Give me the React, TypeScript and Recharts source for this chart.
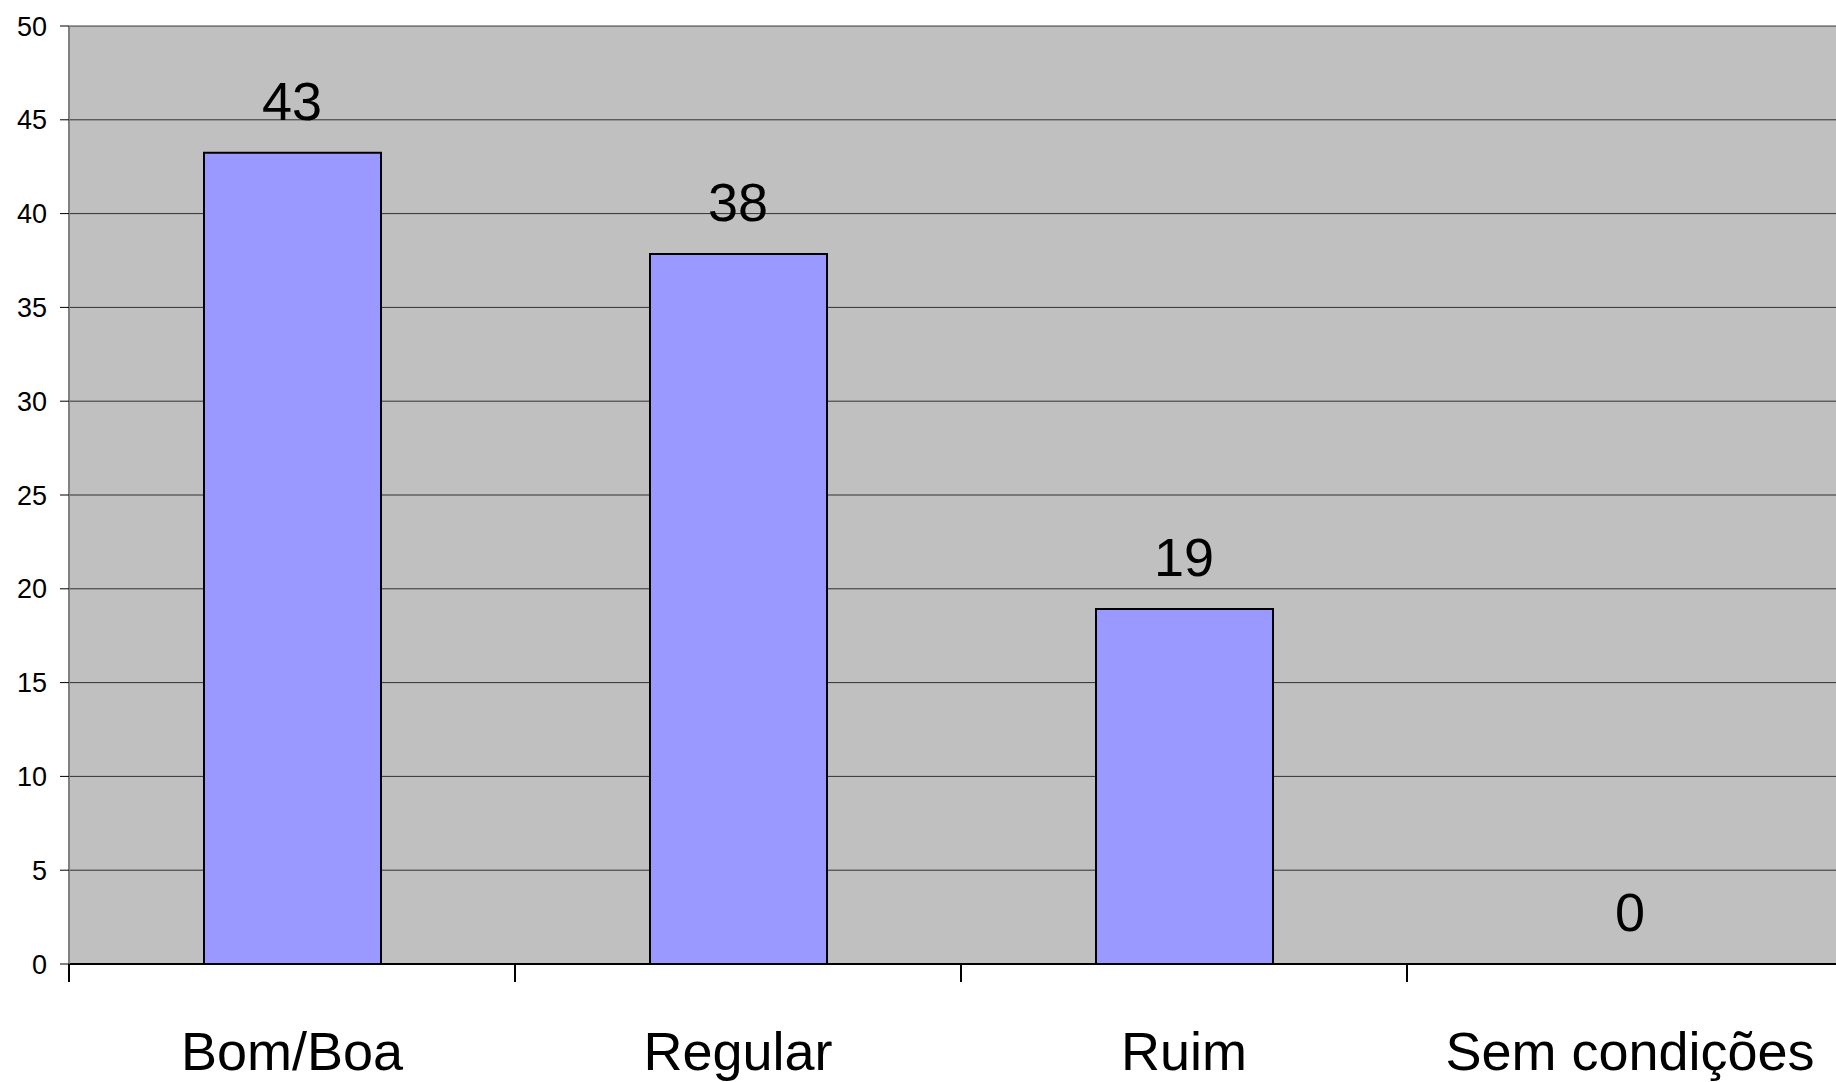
import { ComposedChart, Bar, Line, XAxis, YAxis, CartesianGrid, LabelList } from 'recharts';

const categories = ['Bom/Boa', 'Regular', 'Ruim', 'Sem condições'];
const percentValues = [43.24, 37.84, 18.92, 0];
const yTicks = [0, 5, 10, 15, 20, 25, 30, 35, 40, 45, 50];

const data = categories.map((name, i) => ({ name, value: percentValues[i] }));

const HALF_BAND = 223;

function CategoryTick(props: any) {
  const { x, y, payload } = props;
  return (
    <g>
      <line x1={x - HALF_BAND} x2={x - HALF_BAND} y1={y} y2={y + 18} stroke="#000" strokeWidth={2} />
      <text x={x} y={y + 106} textAnchor="middle" fontSize={54} fill="#000">
        {payload.value}
      </text>
    </g>
  );
}

export default function App() {
  return (
    <div
      style={{
        position: 'fixed',
        left: 0,
        top: 0,
        width: 1836,
        height: 1082,
        overflow: 'hidden',
        background: '#fff',
        fontFamily: '"Liberation Sans", Arial, sans-serif',
      }}
    >
      <ComposedChart
        width={1860}
        height={1082}
        data={data}
        margin={{ top: 26, right: 7, bottom: 0, left: 0 }}
        barSize={177}
      >
        <CartesianGrid vertical={false} fill="#C0C0C0" stroke="#000" strokeOpacity={0.75} />
        <XAxis
          dataKey="name"
          height={118}
          tickLine={false}
          tickSize={0}
          tickMargin={0}
          axisLine={{ stroke: '#000', strokeWidth: 2 }}
          tick={<CategoryTick />}
          interval={0}
        />
        <YAxis
          width={69}
          domain={[0, 50]}
          ticks={yTicks}
          interval={0}
          tickSize={9}
          tickMargin={13}
          tickLine={{ stroke: '#000' }}
          axisLine={{ stroke: '#808080', strokeWidth: 2 }}
          tick={{ fontSize: 27, fill: '#000' }}
        />
        <Bar dataKey="value" fill="#9999FF" stroke="#000" strokeWidth={2} isAnimationActive={false} />
        <Line
          dataKey="value"
          stroke="none"
          dot={false}
          activeDot={false}
          legendType="none"
          isAnimationActive={false}
        >
          <LabelList
            dataKey="value"
            position="top"
            offset={33}
            formatter={(v: any) => Math.round(Number(v)).toString()}
            style={{ fontSize: 54, fill: '#000' }}
          />
        </Line>
      </ComposedChart>
    </div>
  );
}
